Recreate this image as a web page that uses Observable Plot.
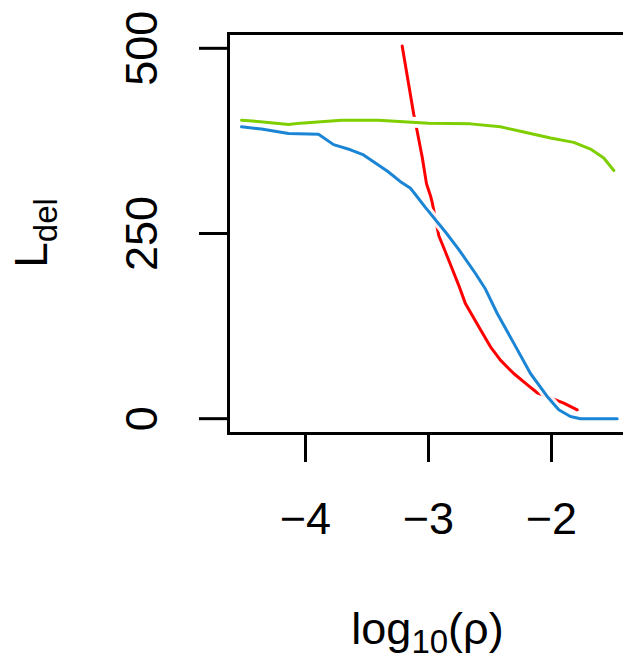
<!DOCTYPE html>
<html><head><meta charset="utf-8">
<script src="https://cdn.jsdelivr.net/npm/d3@7"></script>
<script src="https://cdn.jsdelivr.net/npm/@observablehq/plot@0.6"></script>
<style>html,body{margin:0;padding:0;background:#fff;overflow:hidden}</style>
</head><body><div id="chart"></div>
<script>
// log10(rho) positions and L_del values
const redX   = [-3.214, -3.120, -3.092, -3.051, -3.016, -2.984, -2.970, -2.916, -2.862, -2.807, -2.754, -2.699, -2.577, -2.496, -2.415, -2.307, -2.198, -2.116, -1.900, -1.791];
const redY   = [503, 411, 388, 353, 317, 301, 292, 247, 225, 202, 180, 155, 120, 97, 79, 61, 46, 35, 21, 12];
const greenX = [-4.520, -4.366, -4.138, -4.040, -3.707, -3.407, -3.000, -2.659, -2.415, -2.198, -2.008, -1.819, -1.683, -1.575, -1.493];
const greenY = [403, 401, 397, 399, 403, 403, 399, 398, 394, 386, 379, 373, 364, 352, 335];
const blueX  = [-4.520, -4.358, -4.138, -3.894, -3.772, -3.634, -3.528, -3.447, -3.333, -3.228, -3.146, -3.108, -3.024, -2.862, -2.756, -2.618, -2.537, -2.441, -2.307, -2.171, -2.035, -1.941, -1.846, -1.764, -1.466];
const blueY  = [394, 391, 385, 384, 370, 363, 356, 347, 334, 320, 311, 303, 285, 252, 229, 196, 175, 142, 102, 61, 30, 12, 3, 0, 0];
const xTicks = [-4, -3, -2];
const xTickLabels = ["\u22124", "\u22123", "\u22122"];
const yTicks = [0, 250, 500];
const yTickLabels = ["0", "250", "500"];

const toRows = (xs, ys) => xs.map((x, i) => ({x, y: ys[i]}));
const red = toRows(redX, redY);
const green = toRows(greenX, greenY);
const blue = toRows(blueX, blueY);

const font = "'Liberation Sans', Arial, Helvetica, sans-serif";
const lw = 3;

const chart = Plot.plot({
  width: 623, height: 662,
  marginLeft: 228, marginRight: -4, marginTop: 33, marginBottom: 229,
  style: {fontFamily: font, background: "white", color: "black"},
  x: {domain: [-4.626, -1.382], label: null},
  y: {domain: [-20, 520], label: null},
  marks: [
    Plot.line(red, {x: "x", y: "y", stroke: "#ff0000", strokeWidth: lw}),
    Plot.line(green, {x: "x", y: "y", stroke: "white", strokeWidth: 11}),
    Plot.line(blue, {x: "x", y: "y", stroke: "white", strokeWidth: 9, strokeOpacity: 0.92}),
    Plot.line(green, {x: "x", y: "y", stroke: "#7fcf00", strokeWidth: lw}),
    Plot.line(blue, {x: "x", y: "y", stroke: "#1a85d4", strokeWidth: lw}),
    Plot.frame({stroke: "black", strokeWidth: 3}),
    Plot.axisY(yTicks, {tickSize: 29, tickPadding: 57, tickRotate: -90, lineAnchor: "middle", fontSize: 45, strokeWidth: 3, label: null,
      tickFormat: d => yTickLabels[yTicks.indexOf(d)]}),
    Plot.axisX(xTicks, {tickSize: 29, tickPadding: 40, fontSize: 45, strokeWidth: 3, label: null,
      tickFormat: d => xTickLabels[xTicks.indexOf(d)]})
  ]
});
document.getElementById("chart").appendChild(chart);

// axis titles with subscripts
const xr = chart.scale("x").range, yr = chart.scale("y").range;
const svg = d3.select(chart);
const xt = svg.append("text")
  .attr("x", (xr[0] + xr[1]) / 2).attr("y", yr[0] + 211)
  .attr("text-anchor", "middle").attr("fill", "black")
  .style("font-family", font).style("font-size", "45px");
xt.append("tspan").text("log");
xt.append("tspan").attr("dy", 9).style("font-size", "33px").text("10");
xt.append("tspan").attr("dy", -9).text("(\u03c1)");

const yt = svg.append("text")
  .attr("transform", `translate(${xr[0] - 181},${(yr[0] + yr[1]) / 2}) rotate(-90)`)
  .attr("text-anchor", "middle").attr("fill", "black")
  .style("font-family", font).style("font-size", "46px");
yt.append("tspan").text("L");
yt.append("tspan").attr("dy", 10).style("font-size", "33px").text("del");
</script>
</body></html>
